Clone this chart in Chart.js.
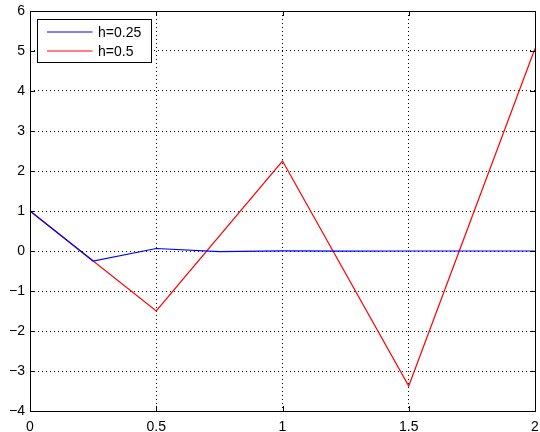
<!DOCTYPE html>
<html><head><meta charset="utf-8">
<script src="https://cdn.jsdelivr.net/npm/chart.js@4"></script>
<style>html,body{margin:0;padding:0;background:#fff}#wrap{width:540px;height:432px}</style>
</head><body><div id="wrap"><canvas id="c" width="540" height="432"></canvas></div>
<script>
const seriesNames = ["h=0.25", "h=0.5"];
const xA = [0, 0.25, 0.5, 0.75, 1, 1.25, 1.5, 1.75, 2];
const yA = [1, -0.25, 0.0625, -0.015625, 0.00390625, -0.0009765625, 0.000244140625, -0.00006103515625, 0.0000152587890625];
const xB = [0, 0.5, 1, 1.5, 2];
const yB = [1, -1.5, 2.25, -3.375, 5.0625];
const xTicks = [0, 0.5, 1, 1.5, 2];
const yTicks = [-4, -3, -2, -1, 0, 1, 2, 3, 4, 5, 6];
const colors = ["#0000ff", "#ff0000"];

const fmt = v => String(v).replace('-', '\u2212');
const FONT = {family: "'Liberation Sans', Arial, sans-serif", size: 14};

const framePlugin = {
  id: 'frame',
  afterDraw(chart) {
    const {ctx, chartArea: a, scales: {x, y}} = chart;
    ctx.save();
    ctx.strokeStyle = '#000';
    ctx.lineWidth = 1;
    ctx.setLineDash([]);
    const L = 5;
    ctx.beginPath();
    xTicks.forEach(t => {
      const px = Math.round(x.getPixelForValue(t)) + 0.5;
      ctx.moveTo(px, a.bottom); ctx.lineTo(px, a.bottom - L);
      ctx.moveTo(px, a.top); ctx.lineTo(px, a.top + L);
    });
    yTicks.forEach(t => {
      const py = Math.round(y.getPixelForValue(t)) + 0.5;
      ctx.moveTo(a.left, py); ctx.lineTo(a.left + L, py);
      ctx.moveTo(a.right, py); ctx.lineTo(a.right - L, py);
    });
    ctx.stroke();
    ctx.strokeRect(Math.round(a.left) + 0.5, Math.round(a.top) + 0.5, Math.round(a.right - a.left), Math.round(a.bottom - a.top));
    // legend
    const bx = 37.5, by = 19.5, bw = 114, bh = 43;
    ctx.fillStyle = '#fff';
    ctx.fillRect(bx, by, bw, bh);
    ctx.strokeRect(bx, by, bw, bh);
    ctx.font = "14px 'Liberation Sans', Arial, sans-serif";
    ctx.textBaseline = 'middle';
    chart.data.datasets.forEach((ds, i) => {
      const ry = 32 + i * 19;
      ctx.strokeStyle = ds.borderColor;
      ctx.beginPath(); ctx.moveTo(47, ry); ctx.lineTo(92.5, ry); ctx.stroke();
      ctx.fillStyle = '#000';
      ctx.fillText(ds.label, 98, ry + 1);
    });
    ctx.restore();
  }
};

new Chart(document.getElementById('c'), {
  type: 'line',
  data: {
    datasets: [
      {label: seriesNames[0], data: xA.map((v, i) => ({x: v, y: yA[i]})), borderColor: colors[0], borderWidth: 1.2, pointRadius: 0, tension: 0, fill: false},
      {label: seriesNames[1], data: xB.map((v, i) => ({x: v, y: yB[i]})), borderColor: colors[1], borderWidth: 1.2, pointRadius: 0, tension: 0, fill: false}
    ]
  },
  options: {
    responsive: false,
    animation: false,
    layout: {padding: {top: 11, right: 5, left: 0, bottom: 0}},
    plugins: {legend: {display: false}, tooltip: {enabled: false}},
    scales: {
      x: {
        type: 'linear', min: 0, max: 2,
        afterBuildTicks: s => { s.ticks = xTicks.map(v => ({value: v})); },
        afterFit: s => { s.height = 21; s.paddingLeft = 0; s.paddingRight = 0; },
        ticks: {color: '#000', font: FONT, padding: 8, maxRotation: 0, callback: v => fmt(v)},
        grid: {color: '#000', lineWidth: 1, drawTicks: false},
        border: {display: false, dash: [1, 3]}
      },
      y: {
        type: 'linear', min: -4, max: 6,
        afterBuildTicks: s => { s.ticks = yTicks.map(v => ({value: v})); },
        afterFit: s => { s.width = 30; s.paddingTop = 0; s.paddingBottom = 0; },
        ticks: {color: '#000', font: FONT, padding: 5, callback: v => fmt(v)},
        grid: {color: '#000', lineWidth: 1, drawTicks: false},
        border: {display: false, dash: [1, 3]}
      }
    }
  },
  plugins: [framePlugin]
});
</script></body></html>
